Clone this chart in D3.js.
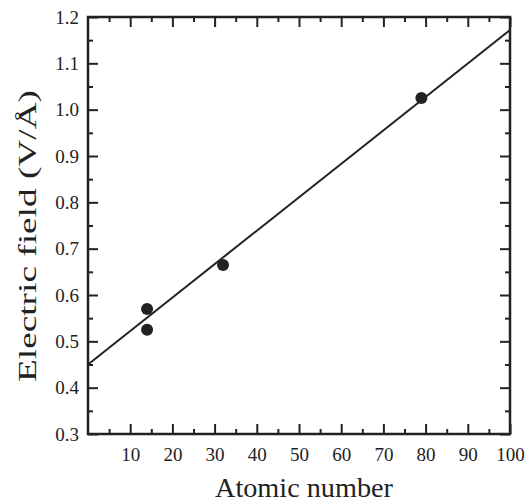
<!DOCTYPE html>
<html>
<head>
<meta charset="utf-8">
<script src="https://cdn.jsdelivr.net/npm/d3@7"></script>
<style>
  body { margin: 0; background: #fff; }
  #chart { width: 532px; height: 503px; }
  svg text { font-family: "Liberation Serif", "DejaVu Serif", serif; fill: #222; }
</style>
</head>
<body>
<div id="chart"></div>
<script>
// data
var atomicNumber = [14, 14, 32, 79];
var fieldValues = [0.57, 0.525, 0.665, 1.025];
var fitLine = [[0, 0.45], [100, 1.172]];
var xTicks = [10, 20, 30, 40, 50, 60, 70, 80, 90, 100];
var yTicks = [0.3, 0.4, 0.5, 0.6, 0.7, 0.8, 0.9, 1.0, 1.1, 1.2];

var width = 532, height = 503;
var margin = { top: 17, right: 22, bottom: 69, left: 88 };
var ink = '#222';
var serif = '"Liberation Serif", "DejaVu Serif", serif';

var svg = d3.select('#chart').append('svg')
    .attr('width', width)
    .attr('height', height);

var w = width - margin.left - margin.right;
var h = height - margin.top - margin.bottom;

var plot = svg.append('g')
    .attr('transform', 'translate(' + margin.left + ',' + margin.top + ')');

var x = d3.scaleLinear().domain([0, 100]).range([0, w]);
var y = d3.scaleLinear().domain([0.3, 1.2]).range([h, 0]);

// minor ticks, inward
var xMinor = d3.range(5, 100, 10);
var yMinor = d3.range(0.35, 1.2, 0.1);

function styleAxis(g) {
    g.attr('font-family', serif).attr('font-size', 19);
    g.select('.domain').remove();
    g.selectAll('line').attr('stroke', ink).attr('stroke-width', 2);
    g.selectAll('text').attr('fill', ink);
}

// bottom
plot.append('g').attr('transform', 'translate(0,' + h + ')')
    .call(d3.axisBottom(x).tickValues(xTicks).tickSize(-10).tickPadding(14).tickFormat(d3.format('d')))
    .call(styleAxis);
plot.append('g').attr('transform', 'translate(0,' + h + ')')
    .call(d3.axisBottom(x).tickValues(xMinor).tickSize(-5).tickFormat(''))
    .call(styleAxis);
// top
plot.append('g')
    .call(d3.axisTop(x).tickValues(xTicks).tickSize(-10).tickFormat(''))
    .call(styleAxis);
plot.append('g')
    .call(d3.axisTop(x).tickValues(xMinor).tickSize(-5).tickFormat(''))
    .call(styleAxis);
// left
plot.append('g')
    .call(d3.axisLeft(y).tickValues(yTicks).tickSize(-10).tickPadding(9).tickFormat(d3.format('.1f')))
    .call(styleAxis);
plot.append('g')
    .call(d3.axisLeft(y).tickValues(yMinor).tickSize(-5).tickFormat(''))
    .call(styleAxis);
// right
plot.append('g').attr('transform', 'translate(' + w + ',0)')
    .call(d3.axisRight(y).tickValues(yTicks).tickSize(-10).tickFormat(''))
    .call(styleAxis);
plot.append('g').attr('transform', 'translate(' + w + ',0)')
    .call(d3.axisRight(y).tickValues(yMinor).tickSize(-5).tickFormat(''))
    .call(styleAxis);

// frame
plot.append('rect')
    .attr('width', w).attr('height', h)
    .attr('fill', 'none')
    .attr('stroke', ink)
    .attr('stroke-width', 2.5);

// fit line
var line = d3.line()
    .x(function (d) { return x(d[0]); })
    .y(function (d) { return y(d[1]); });
plot.append('path')
    .attr('d', line(fitLine))
    .attr('fill', 'none')
    .attr('stroke', ink)
    .attr('stroke-width', 2);

// points
plot.selectAll('.dot')
    .data(atomicNumber)
    .enter().append('circle')
    .attr('class', 'dot')
    .attr('cx', function (d) { return x(d); })
    .attr('cy', function (d, i) { return y(fieldValues[i]); })
    .attr('r', 6)
    .attr('fill', ink);

// axis titles
svg.append('text')
    .attr('x', 304)
    .attr('y', 497)
    .attr('text-anchor', 'middle')
    .style('font-size', '28px')
    .attr('textLength', 178)
    .attr('lengthAdjust', 'spacingAndGlyphs')
    .text('Atomic number');

svg.append('text')
    .attr('transform', 'translate(36,236) rotate(-90)')
    .attr('text-anchor', 'middle')
    .style('font-size', '26px')
    .attr('textLength', 292)
    .attr('lengthAdjust', 'spacingAndGlyphs')
    .text('Electric field (V/Å)');
</script>
</body>
</html>
